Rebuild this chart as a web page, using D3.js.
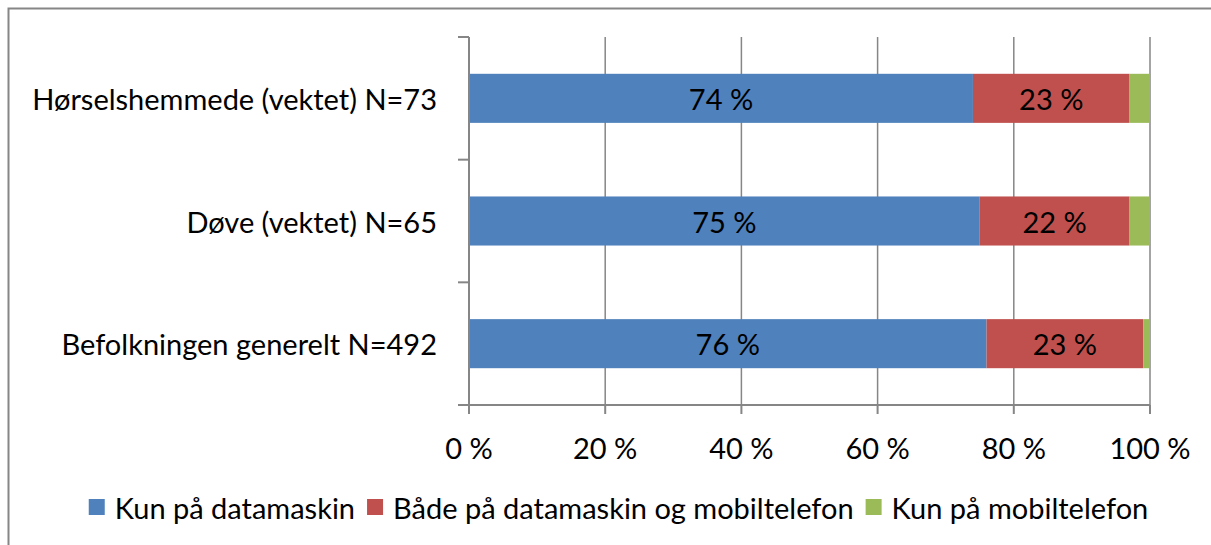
<!DOCTYPE html>
<html>
<head>
<meta charset="utf-8">
<script src="https://cdn.jsdelivr.net/npm/d3@7"></script>
<style>
  html, body { margin: 0; padding: 0; background: #fff; }
  svg { display: block; }
  text { font-family: Lato, "Open Sans", sans-serif; fill: #000; }
</style>
</head>
<body>
<svg id="chart" width="1211" height="545"></svg>
<script>
// Groups (top to bottom) and share of each answer, in percent
const categories = [
  "Hørselshemmede (vektet) N=73",
  "Døve (vektet) N=65",
  "Befolkningen generelt N=492"
];
const seriesNames = [
  "Kun på datamaskin",
  "Både på datamaskin og mobiltelefon",
  "Kun på mobiltelefon"
];
const kunDatamaskin = [74, 75, 76];
const begge = [23, 22, 23];
const kunMobil = [3, 3, 1];
const tickValues = [0, 20, 40, 60, 80, 100];
const tickLabels = ["0 %", "20 %", "40 %", "60 %", "80 %", "100 %"];
const colors = ["#4F81BD", "#C0504D", "#9BBB59"];

const svg = d3.select("#chart");
const axisColor = "#868686";
const fontSize = 29;

// Chart frame
svg.append("rect")
  .attr("x", 8.5).attr("y", 8.5)
  .attr("width", 1240).attr("height", 600)
  .attr("fill", "none").attr("stroke", axisColor).attr("stroke-width", 2);

const plot = { left: 469, right: 1150, top: 37, bottom: 405 };

const x = d3.scaleLinear().domain([0, 100]).range([plot.left, plot.right]);
const y = d3.scaleBand().domain(categories)
  .range([plot.top, plot.bottom])
  .paddingInner(0.6).paddingOuter(0.3);

// Table rows for stacking
const rows = categories.map((c, i) => ({
  cat: c,
  [seriesNames[0]]: kunDatamaskin[i],
  [seriesNames[1]]: begge[i],
  [seriesNames[2]]: kunMobil[i]
}));
const stacked = d3.stack().keys(seriesNames)(rows);

// Vertical gridlines
svg.append("g").selectAll("line")
  .data(tickValues.slice(1))
  .join("line")
  .attr("x1", d => x(d)).attr("x2", d => x(d))
  .attr("y1", plot.top).attr("y2", plot.bottom)
  .attr("stroke", axisColor).attr("stroke-width", 1.5);

// Bars
const layers = svg.append("g").selectAll("g")
  .data(stacked)
  .join("g")
  .attr("fill", (d, i) => colors[i]);

layers.selectAll("rect")
  .data(d => d)
  .join("rect")
  .attr("x", d => x(d[0]))
  .attr("width", d => x(d[1]) - x(d[0]))
  .attr("y", d => y(d.data.cat))
  .attr("height", y.bandwidth());

// Value labels for the two larger segments
stacked.slice(0, 2).forEach(layer => {
  svg.append("g").selectAll("text")
    .data(layer)
    .join("text")
    .attr("x", d => (x(d[0]) + x(d[1])) / 2)
    .attr("y", d => y(d.data.cat) + y.bandwidth() / 2)
    .attr("text-anchor", "middle")
    .attr("dominant-baseline", "central")
    .attr("font-size", fontSize)
    .text(d => (d[1] - d[0]) + " %");
});

// Category axis (left)
const yAxis = svg.append("g");
yAxis.append("line")
  .attr("x1", plot.left).attr("x2", plot.left)
  .attr("y1", plot.top).attr("y2", plot.bottom + 9)
  .attr("stroke", axisColor).attr("stroke-width", 2);
const bounds = categories.map(c => y(c) - y.step() * y.paddingInner() / 2);
bounds.push(plot.bottom);
yAxis.selectAll("line.tick")
  .data(bounds)
  .join("line")
  .attr("class", "tick")
  .attr("x1", plot.left - 11).attr("x2", plot.left)
  .attr("y1", d => d).attr("y2", d => d)
  .attr("stroke", axisColor).attr("stroke-width", 2);
yAxis.selectAll("text")
  .data(categories)
  .join("text")
  .attr("x", 437)
  .attr("y", d => y(d) + y.bandwidth() / 2)
  .attr("text-anchor", "end")
  .attr("dominant-baseline", "central")
  .attr("font-size", fontSize)
  .text(d => d);

// Value axis (bottom)
const xAxis = svg.append("g");
xAxis.append("line")
  .attr("x1", plot.left - 11).attr("x2", plot.right)
  .attr("y1", plot.bottom).attr("y2", plot.bottom)
  .attr("stroke", axisColor).attr("stroke-width", 2);
xAxis.selectAll("line.tick")
  .data(tickValues)
  .join("line")
  .attr("class", "tick")
  .attr("x1", d => x(d)).attr("x2", d => x(d))
  .attr("y1", plot.bottom).attr("y2", plot.bottom + 9)
  .attr("stroke", axisColor).attr("stroke-width", 2);
xAxis.selectAll("text")
  .data(tickValues)
  .join("text")
  .attr("x", d => x(d))
  .attr("y", 447)
  .attr("text-anchor", "middle")
  .attr("dominant-baseline", "central")
  .attr("font-size", fontSize)
  .text((d, i) => tickLabels[i]);

// Legend, centred under the chart
const legend = svg.append("g");
const sq = 16, gapText = 10, gapItem = 12;
const items = legend.selectAll("g")
  .data(seriesNames)
  .join("g");
items.append("rect")
  .attr("width", sq).attr("height", sq)
  .attr("y", 499)
  .attr("fill", (d, i) => colors[i]);
items.append("text")
  .attr("x", sq + gapText)
  .attr("y", 507)
  .attr("dominant-baseline", "central")
  .attr("font-size", fontSize)
  .text(d => d);
let offsets = [], cur = 0;
items.each(function () {
  offsets.push(cur);
  cur += sq + gapText + d3.select(this).select("text").node().getComputedTextLength() + gapItem;
});
const total = cur - gapItem;
const start = 618.5 - total / 2;
items.attr("transform", (d, i) => `translate(${start + offsets[i]},0)`);
</script>
</body>
</html>
